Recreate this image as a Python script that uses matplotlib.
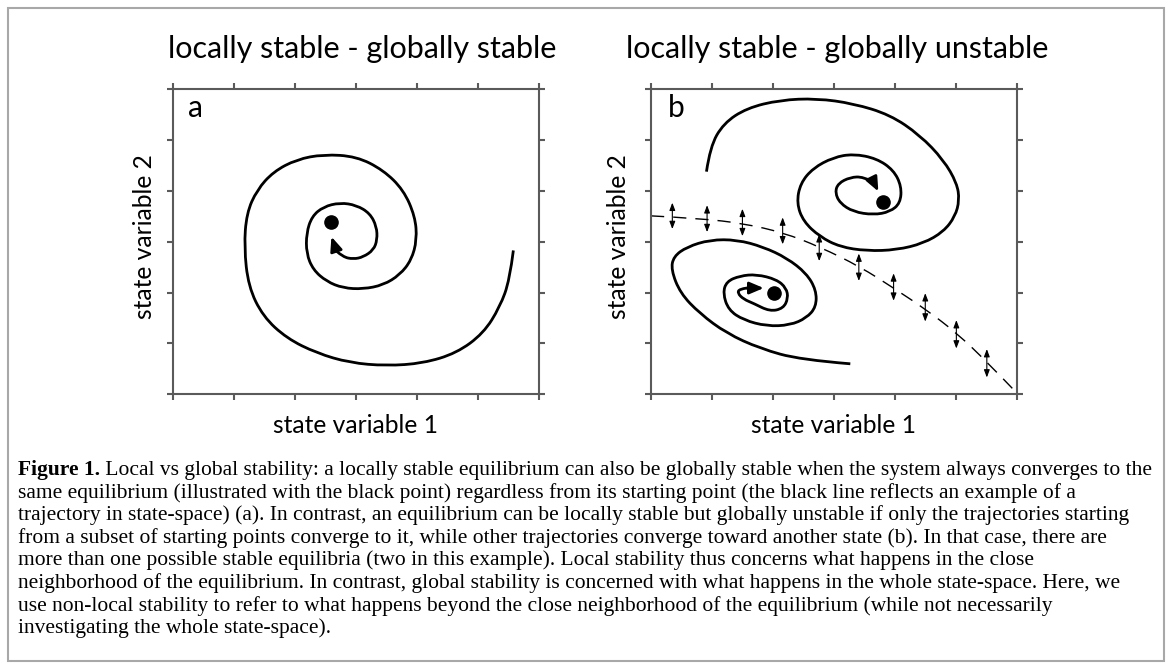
import matplotlib
matplotlib.use("Agg")
import matplotlib.pyplot as plt
from matplotlib.path import Path
from matplotlib.patches import PathPatch, Rectangle

# ---------------- data ----------------
titles = ["locally stable - globally stable", "locally stable - globally unstable"]
panel_letters = ["a", "b"]
xlabel_text = "state variable 1"
ylabel_text = "state variable 2"
ticks = [0, 1, 2, 3, 4, 5, 6]

# panel a: single spiral converging to one equilibrium
spiral_a_x = [5.58, 5.52, 5.36, 5.09, 4.65, 4.10, 3.50, 2.90, 2.36, 1.87, 1.48, 1.24, 1.17,
              1.21, 1.38, 1.65, 2.03, 2.47, 3.01, 3.45, 3.78, 3.97, 4.00, 3.91, 3.72, 3.45,
              3.12, 2.79, 2.52, 2.30, 2.19, 2.19, 2.28, 2.47, 2.74, 3.01, 3.23, 3.34, 3.35,
              3.29, 3.12, 2.96, 2.79, 2.68]
spiral_a_y = [2.83, 2.25, 1.72, 1.20, 0.81, 0.61, 0.56, 0.62, 0.81, 1.10, 1.53, 2.12, 2.90,
              3.56, 4.02, 4.38, 4.62, 4.72, 4.68, 4.41, 4.02, 3.50, 3.04, 2.64, 2.35, 2.15,
              2.07, 2.09, 2.22, 2.45, 2.77, 3.17, 3.50, 3.69, 3.77, 3.72, 3.56, 3.30, 3.04,
              2.84, 2.70, 2.66, 2.70, 2.82]
arrow_a_tip = (2.60, 3.10)
dot_a = (2.59, 3.38)

# panel b: upper-right basin
spiral_b1_x = [0.91, 0.97, 1.19, 1.57, 2.12, 2.72, 3.32, 3.92, 4.41, 4.80, 5.02, 5.06, 4.99,
               4.80, 4.47, 4.03, 3.54, 3.10, 2.77, 2.50, 2.39, 2.45, 2.66, 2.99, 3.32, 3.70,
               3.98, 4.11, 4.09, 3.92, 3.65, 3.32, 3.10, 3.02, 3.07, 3.27, 3.48, 3.65]
spiral_b1_y = [4.38, 4.87, 5.33, 5.63, 5.79, 5.82, 5.72, 5.50, 5.10, 4.61, 4.15, 3.82, 3.50,
               3.20, 2.97, 2.84, 2.82, 2.90, 3.10, 3.40, 3.76, 4.15, 4.45, 4.66, 4.73, 4.64,
               4.41, 4.09, 3.76, 3.59, 3.53, 3.59, 3.76, 3.97, 4.15, 4.27, 4.28, 4.18]
arrow_b1_tip = (3.73, 3.99)
dot_b1 = (3.81, 3.79)

# panel b: lower-left basin
spiral_b2_x = [3.27, 2.45, 1.79, 1.24, 0.80, 0.48, 0.33, 0.37, 0.59, 0.97, 1.41, 1.84, 2.23,
               2.55, 2.71, 2.71, 2.55, 2.28, 1.90, 1.52, 1.27, 1.18, 1.24, 1.46, 1.73, 2.06,
               2.22, 2.25, 2.17, 1.95, 1.68, 1.52, 1.42, 1.45, 1.57]
spiral_b2_y = [0.60, 0.68, 0.90, 1.20, 1.59, 1.99, 2.45, 2.71, 2.90, 3.04, 3.04, 2.90, 2.68,
               2.38, 2.05, 1.72, 1.50, 1.36, 1.34, 1.46, 1.66, 1.99, 2.22, 2.33, 2.36, 2.26,
               2.09, 1.89, 1.69, 1.63, 1.79, 1.87, 1.99, 2.07, 2.09]
arrow_b2_tip = (1.85, 2.09)
dot_b2 = (2.01, 2.00)

# separatrix (dashed) and the perpendicular double arrows
sep_x = [0.00, 0.80, 1.52, 2.17, 2.77, 3.43, 3.98, 4.52, 5.02, 5.51, 5.95]
sep_y = [3.51, 3.46, 3.36, 3.18, 2.90, 2.51, 2.09, 1.66, 1.20, 0.64, 0.09]
darrow_x = [0.35, 0.92, 1.50, 2.16, 2.76, 3.41, 3.98, 4.50, 5.01, 5.51]
darrow_lo = [3.25, 3.19, 3.11, 2.95, 2.62, 2.23, 1.84, 1.43, 0.90, 0.33]
darrow_hi = [3.77, 3.72, 3.65, 3.48, 3.15, 2.77, 2.38, 1.99, 1.46, 0.89]

caption_bold = "Figure 1."
caption_lines = [
    " Local vs global stability: a locally stable equilibrium can also be globally stable when the system always converges to the",
    "same equilibrium (illustrated with the black point) regardless from its starting point (the black line reflects an example of a",
    "trajectory in state-space) (a). In contrast, an equilibrium can be locally stable but globally unstable if only the trajectories starting",
    "from a subset of starting points converge to it, while other trajectories converge toward another state (b). In that case, there are",
    "more than one possible stable equilibria (two in this example). Local stability thus concerns what happens in the close",
    "neighborhood of the equilibrium. In contrast, global stability is concerned with what happens in the whole state-space. Here, we",
    "use non-local stability to refer to what happens beyond the close neighborhood of the equilibrium (while not necessarily",
    "investigating the whole state-space).",
]

# ---------------- style ----------------
W, H = 1169, 666
SANS = ["Lato", "Open Sans", "DejaVu Sans"]
SERIF = ["Liberation Serif", "DejaVu Serif"]
SPINE = "#5a5a5a"

fig = plt.figure(figsize=(W / 100, H / 100), dpi=100)
fig.patch.set_facecolor("white")


def fx(px):
    return px / W


def fy(py):
    return 1 - py / H


def smooth_path(xs, ys):
    pts = list(zip(xs, ys))
    verts = [pts[0]]
    codes = [Path.MOVETO]
    n = len(pts)
    for i in range(1, n - 1):
        p, q = pts[i], pts[i + 1]
        end = q if i == n - 2 else ((p[0] + q[0]) / 2, (p[1] + q[1]) / 2)
        verts += [p, end]
        codes += [Path.CURVE3, Path.CURVE3]
    return Path(verts, codes)


def draw_spiral(ax, xs, ys, tip, dot):
    ax.add_patch(PathPatch(smooth_path(xs, ys), fill=False, lw=2.0, ec="black",
                           capstyle="butt", joinstyle="round"))
    ax.annotate("", xy=tip, xytext=(xs[-1], ys[-1]),
                arrowprops=dict(arrowstyle="-|>,head_length=0.85,head_width=0.36",
                                lw=2.0, color="black", shrinkA=0, shrinkB=0))
    ax.plot([dot[0]], [dot[1]], "o", color="black", ms=9.5)


panel_px = [(172.7, 89.3, 366.3, 305.0), (651.0, 89.3, 365.7, 305.0)]
title_cx = [362, 837]
ylabel_px = [145, 618]
letter_x = [0.25, 0.28]
axes = []
for k, (l, t, w, h) in enumerate(panel_px):
    ax = fig.add_axes([fx(l), fy(t + h), w / W, h / H])
    ax.set_xlim(ticks[0], ticks[-1])
    ax.set_ylim(ticks[0], ticks[-1])
    ax.set_xticks(ticks)
    ax.set_yticks(ticks)
    ax.set_xticklabels([])
    ax.set_yticklabels([])
    ax.tick_params(direction="out", length=4.5, width=1.5, color=SPINE,
                   top=True, right=True, bottom=True, left=True)
    for s in ax.spines.values():
        s.set_color(SPINE)
        s.set_linewidth(1.5)
    ax.text(letter_x[k], 5.45, panel_letters[k], fontsize=21.5, family=SANS, va="baseline")
    fig.text(fx(title_cx[k]), fy(58), titles[k], fontsize=22, family=SANS,
             ha="center", va="baseline")
    fig.text(fx(l + w / 2), fy(433), xlabel_text, fontsize=17.7, family=SANS,
             ha="center", va="baseline")
    fig.text(fx(ylabel_px[k]), fy(t + h / 2 - 5), ylabel_text, fontsize=17.7, family=SANS,
             ha="center", va="center", rotation=90)
    axes.append(ax)

ax_a, ax_b = axes
draw_spiral(ax_a, spiral_a_x, spiral_a_y, arrow_a_tip, dot_a)
draw_spiral(ax_b, spiral_b1_x, spiral_b1_y, arrow_b1_tip, dot_b1)
draw_spiral(ax_b, spiral_b2_x, spiral_b2_y, arrow_b2_tip, dot_b2)

sep = PathPatch(smooth_path(sep_x, sep_y), fill=False, lw=1.0, ec="black")
sep.set_linestyle((0, (9.5, 6.5)))
ax_b.add_patch(sep)
for x, lo, hi in zip(darrow_x, darrow_lo, darrow_hi):
    ax_b.annotate("", xy=(x, hi), xytext=(x, lo),
                  arrowprops=dict(arrowstyle="<|-|>,head_length=0.45,head_width=0.17",
                                  lw=0.8, color="black", shrinkA=0, shrinkB=0))

# frame around the whole figure
fig.patches.append(Rectangle((fx(8), fy(661)), (1164 - 8) / W, (661 - 8) / H,
                             transform=fig.transFigure, fill=False, ec="#a8a8a8", lw=1.5))

# caption
cap_x0 = 18
cap_y0 = 470
line_h = 22.6
cap_fs = 15.5
renderer = fig.canvas.get_renderer()
tb = fig.text(fx(cap_x0), fy(cap_y0), caption_bold, fontsize=cap_fs, family=SERIF,
              weight="bold", ha="left", va="center")
bb = tb.get_window_extent(renderer=renderer)
for i, line in enumerate(caption_lines):
    x = cap_x0 + (bb.width if i == 0 else 0)
    fig.text(fx(x), fy(cap_y0 + i * line_h), line, fontsize=cap_fs, family=SERIF,
             ha="left", va="center")

fig.savefig("out.png", dpi=100, facecolor="white")
